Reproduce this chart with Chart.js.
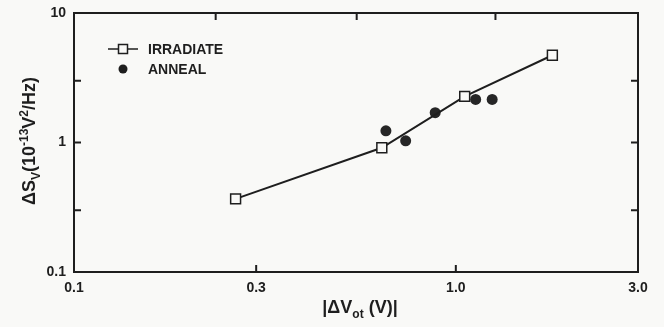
<!DOCTYPE html>
<html>
<head>
<meta charset="utf-8">
<script src="https://cdn.jsdelivr.net/npm/chart.js@4.4.0/dist/chart.umd.min.js"></script>
<style>
html, body { margin: 0; padding: 0; background: #f9f9f7; }
#wrap { width: 664px; height: 327px; }
</style>
</head>
<body>
<div id="wrap"><canvas id="myChart" width="664" height="327"></canvas></div>
<script>
// values
var irradiateX = [0.265, 0.64, 1.055, 1.79];
var irradiateY = [0.367, 0.91, 2.27, 4.72];
var annealX = [0.656, 0.739, 0.883, 1.127, 1.245];
var annealY = [1.23, 1.03, 1.70, 2.15, 2.15];

var xTicks = [0.1, 0.3, 1.0, 3.0];
var xTickLabels = ['0.1', '0.3', '1.0', '3.0'];
var yTicks = [0.1, 0.3, 1, 3, 10];
var yTickLabels = ['0.1', '', '1', '', '10'];
var topTicks = [0.235, 0.55, 1.27];

var ink = '#1e1e1e';
var tickFont = { family: 'Liberation Sans', size: 14, weight: 'bold' };

function toPoints(xs, ys) {
    return xs.map(function (x, i) { return { x: x, y: ys[i] }; });
}

// draws text with sub/superscripts, centred on x
function drawRich(ctx, parts, x, y, size) {
    var total = 0;
    parts.forEach(function (p) {
        ctx.font = 'bold ' + (p.k ? Math.round(size * 0.68) : size) + 'px "Liberation Sans"';
        p.w = ctx.measureText(p.t).width;
        total += p.w;
    });
    var cx = x - total / 2;
    parts.forEach(function (p) {
        ctx.font = 'bold ' + (p.k ? Math.round(size * 0.68) : size) + 'px "Liberation Sans"';
        var dy = p.k === 'sub' ? size * 0.3 : (p.k === 'sup' ? -size * 0.4 : 0);
        ctx.fillText(p.t, cx, y + dy);
        cx += p.w;
    });
}

var framePlugin = {
    id: 'frame',
    afterDraw: function (chart) {
        var ctx = chart.ctx;
        var a = chart.chartArea;
        var sx = chart.scales.x, sy = chart.scales.y;
        ctx.save();
        ctx.strokeStyle = ink;
        ctx.lineWidth = 2;
        ctx.strokeRect(a.left, a.top, a.right - a.left, a.bottom - a.top);
        ctx.beginPath();
        var len = 7;
        [0.3, 1, 3].forEach(function (v) {
            var py = sy.getPixelForValue(v);
            ctx.moveTo(a.left, py); ctx.lineTo(a.left + len, py);
            ctx.moveTo(a.right, py); ctx.lineTo(a.right - len, py);
        });
        [0.3, 1.0].forEach(function (v) {
            var px = sx.getPixelForValue(v);
            ctx.moveTo(px, a.bottom); ctx.lineTo(px, a.bottom - len);
        });
        topTicks.forEach(function (v) {
            var px = sx.getPixelForValue(v);
            ctx.moveTo(px, a.top); ctx.lineTo(px, a.top + len);
        });
        ctx.stroke();

        // legend inside the plot
        ctx.lineWidth = 1.5;
        ctx.beginPath();
        ctx.moveTo(108, 49); ctx.lineTo(138, 49);
        ctx.stroke();
        ctx.fillStyle = '#f9f9f7';
        ctx.fillRect(118.5, 44.5, 9, 9);
        ctx.strokeRect(118.5, 44.5, 9, 9);
        ctx.fillStyle = ink;
        ctx.beginPath();
        ctx.arc(123, 69, 4.5, 0, Math.PI * 2);
        ctx.fill();
        ctx.font = 'bold 14px "Liberation Sans"';
        ctx.textBaseline = 'middle';
        ctx.textAlign = 'left';
        ctx.fillText(chart.data.datasets[0].label, 148, 50);
        ctx.fillText(chart.data.datasets[1].label, 148, 70);

        // axis titles
        ctx.textBaseline = 'alphabetic';
        drawRich(ctx, [{ t: '|\u0394V' }, { t: 'ot', k: 'sub' }, { t: ' (V)|' }], 360, 313, 18);
        ctx.translate(35, 141);
        ctx.rotate(-Math.PI / 2);
        drawRich(ctx, [{ t: '\u0394S' }, { t: 'V', k: 'sub' }, { t: '(10' }, { t: '-13', k: 'sup' },
            { t: 'V' }, { t: '2', k: 'sup' }, { t: '/Hz)' }], 0, 0, 18);
        ctx.restore();
    }
};

var myChart = new Chart(document.getElementById('myChart'), {
    type: 'scatter',
    data: {
        datasets: [{
            label: 'IRRADIATE',
            data: toPoints(irradiateX, irradiateY),
            showLine: true,
            borderColor: ink,
            borderWidth: 2,
            tension: 0,
            pointStyle: 'rect',
            pointRadius: 7,
            pointBorderWidth: 1.5,
            pointBorderColor: ink,
            pointBackgroundColor: '#f9f9f7'
        }, {
            label: 'ANNEAL',
            data: toPoints(annealX, annealY),
            showLine: false,
            pointStyle: 'circle',
            pointRadius: 5.5,
            pointBorderWidth: 0,
            pointBackgroundColor: '#262626'
        }]
    },
    options: {
        responsive: false,
        animation: false,
        layout: { padding: { top: 13, right: 26, left: 0, bottom: 0 } },
        plugins: {
            legend: { display: false },
            tooltip: { enabled: false }
        },
        scales: {
            x: {
                type: 'logarithmic',
                min: 0.1,
                max: 3,
                afterBuildTicks: function (s) { s.ticks = xTicks.map(function (v) { return { value: v }; }); },
                afterFit: function (s) { s.height = 55; },
                grid: { display: false },
                border: { display: false },
                ticks: {
                    autoSkip: false,
                    maxRotation: 0,
                    padding: 0,
                    color: ink,
                    font: tickFont,
                    callback: function (v) { return xTickLabels[xTicks.indexOf(v)]; }
                }
            },
            y: {
                type: 'logarithmic',
                min: 0.1,
                max: 10,
                afterBuildTicks: function (s) { s.ticks = yTicks.map(function (v) { return { value: v }; }); },
                afterFit: function (s) { s.width = 74; },
                grid: { display: false },
                border: { display: false },
                ticks: {
                    autoSkip: false,
                    padding: 0,
                    color: ink,
                    font: tickFont,
                    callback: function (v) { return yTickLabels[yTicks.indexOf(v)]; }
                }
            }
        }
    },
    plugins: [framePlugin]
});
</script>
</body>
</html>
